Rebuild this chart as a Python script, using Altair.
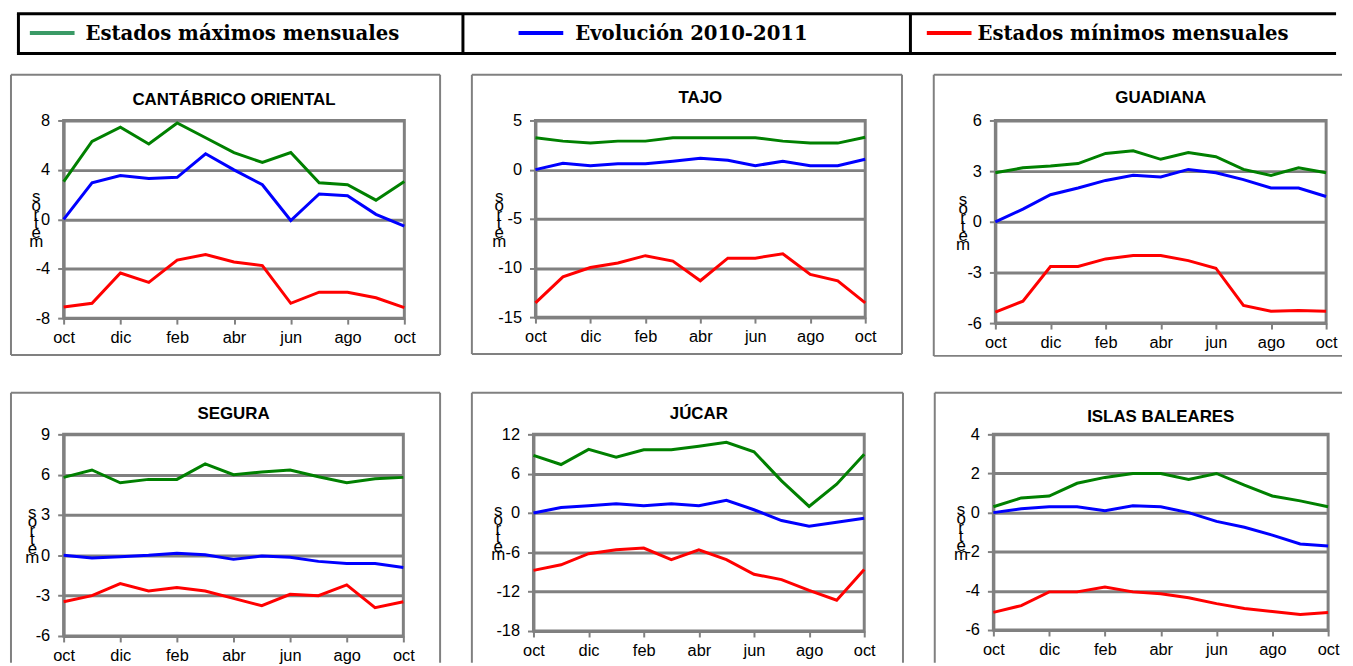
import altair as alt
import pandas as pd

# ---------------- data ----------------
MONTHS = ["oct", "nov", "dic", "ene", "feb", "mar", "abr", "may", "jun", "jul", "ago", "sep", "oct"]
SERIES = ["Estados máximos mensuales", "Evolución 2010-2011", "Estados mínimos mensuales"]
LINE_COLORS = ["#008000", "#0000FF", "#FF0000"]
SAMPLE_COLORS = ["#3A9A66", "#0000FF", "#FF0000"]
TITLES = ["CANTÁBRICO ORIENTAL", "TAJO", "GUADIANA", "SEGURA", "JÚCAR", "ISLAS BALEARES"]
Y_TITLE = list(reversed("metros"))

Y_TICKS = [
    [-8, -4, 0, 4, 8],
    [-15, -10, -5, 0, 5],
    [-6, -3, 0, 3, 6],
    [-6, -3, 0, 3, 6, 9],
    [-18, -12, -6, 0, 6, 12],
    [-6, -4, -2, 0, 2, 4],
]

cant_max = [3.05, 6.3, 7.45, 6.1, 7.8, 6.6, 5.4, 4.6, 5.4, 2.95, 2.8, 1.55, 3.05]
cant_evo = [0.0, 2.95, 3.55, 3.3, 3.4, 5.3, 4.0, 2.8, -0.1, 2.05, 1.9, 0.4, -0.55]
cant_min = [-7.1, -6.8, -4.35, -5.1, -3.3, -2.85, -3.45, -3.75, -6.8, -5.9, -5.9, -6.35, -7.15]

tajo_max = [3.25, 2.9, 2.7, 2.9, 2.9, 3.25, 3.25, 3.25, 3.25, 2.9, 2.7, 2.7, 3.3]
tajo_evo = [0.0, 0.65, 0.4, 0.6, 0.6, 0.85, 1.15, 0.95, 0.4, 0.85, 0.4, 0.4, 1.05]
tajo_min = [-13.55, -10.9, -9.95, -9.5, -8.75, -9.3, -11.3, -9.0, -9.0, -8.55, -10.65, -11.3, -13.55]

guad_max = [2.9, 3.2, 3.3, 3.45, 4.05, 4.2, 3.7, 4.1, 3.85, 3.1, 2.75, 3.2, 2.9]
guad_evo = [0.0, 0.75, 1.6, 2.0, 2.45, 2.75, 2.65, 3.1, 2.9, 2.5, 2.0, 2.0, 1.5]
guad_min = [-5.35, -4.7, -2.65, -2.65, -2.2, -2.0, -2.0, -2.3, -2.75, -4.95, -5.3, -5.25, -5.3]

seg_max = [5.8, 6.35, 5.4, 5.65, 5.65, 6.8, 6.0, 6.2, 6.35, 5.85, 5.4, 5.7, 5.8]
seg_evo = [0.0, -0.2, -0.1, 0.0, 0.15, 0.05, -0.3, -0.05, -0.15, -0.45, -0.6, -0.6, -0.9]
seg_min = [-3.45, -3.0, -2.1, -2.65, -2.4, -2.65, -3.2, -3.75, -2.9, -3.0, -2.2, -3.9, -3.45]

juc_max = [8.8, 7.4, 9.7, 8.5, 9.65, 9.65, 10.2, 10.8, 9.35, 4.9, 1.0, 4.4, 8.95]
juc_evo = [0.0, 0.85, 1.1, 1.4, 1.1, 1.4, 1.1, 1.95, 0.5, -1.15, -2.0, -1.4, -0.8]
juc_min = [-8.75, -7.9, -6.2, -5.6, -5.35, -7.1, -5.6, -7.1, -9.35, -10.15, -11.8, -13.3, -8.6]

bal_max = [0.3, 0.75, 0.85, 1.5, 1.8, 2.0, 2.0, 1.7, 2.0, 1.4, 0.85, 0.6, 0.3]
bal_evo = [0.0, 0.2, 0.3, 0.3, 0.1, 0.35, 0.3, 0.0, -0.45, -0.75, -1.15, -1.6, -1.7]
bal_min = [-5.1, -4.75, -4.05, -4.05, -3.8, -4.05, -4.15, -4.35, -4.65, -4.9, -5.05, -5.2, -5.1]

MAXIMOS = [cant_max, tajo_max, guad_max, seg_max, juc_max, bal_max]
EVOLUCION = [cant_evo, tajo_evo, guad_evo, seg_evo, juc_evo, bal_evo]
MINIMOS = [cant_min, tajo_min, guad_min, seg_min, juc_min, bal_min]

# ---------------- style / geometry ----------------
GRAY = "#808080"
SANS = "Liberation Sans"
PANEL_W = [343, 332, 333, 342, 333, 337]
PANEL_H = [199, 198, 204, 203, 198, 197]
FRAME_L = [-53, -64, -62, -53, -62, -59]
FRAME_T = [-46, -46, -46, -42, -42, -42]
FRAME_R = [36, 37, None, 37, 39, None]      # None: frame continues past the page edge
FRAME_B = [37, 37, 33, None, None, None]
OPEN_R = [0, 0, 16, 0, 0, 14]
OPEN_B = [0, 0, 0, 27, 32, 33]
TITLE_DY = [-16, -18, -18, -15, -15, -12]
YTITLE_X = [-28, -37, -33, -32, -36, -33]
Y_LINE_H = 9

ONE = alt.Data(values=[{}])
month_expr = "[" + ",".join("'%s'" % m for m in MONTHS) + "][datum.value]"


def hrule(x1, x2, y, color=GRAY, width=2):
    return alt.Chart(ONE).mark_rule(color=color, strokeWidth=width).encode(
        x=alt.value(x1), x2=alt.value(x2), y=alt.value(y))


def vrule(x, y1, y2, color=GRAY, width=2):
    return alt.Chart(ONE).mark_rule(color=color, strokeWidth=width).encode(
        x=alt.value(x), y=alt.value(y1), y2=alt.value(y2))


def panel(i):
    w, h = PANEL_W[i], PANEL_H[i]
    ticks = Y_TICKS[i]
    n = len(MONTHS)
    df = pd.DataFrame({
        "m": list(range(n)) * 3,
        "v": MAXIMOS[i] + EVOLUCION[i] + MINIMOS[i],
        "serie": [SERIES[0]] * n + [SERIES[1]] * n + [SERIES[2]] * n,
    })
    lines = alt.Chart(df).mark_line(strokeWidth=3).encode(
        x=alt.X("m:Q",
                scale=alt.Scale(domain=[0, n - 1], nice=False, zero=False),
                axis=alt.Axis(values=list(range(0, n, 2)), labelExpr=month_expr, title=None,
                              grid=False, tickSize=6, labelPadding=6, labelFlush=False,
                              labelOverlap=False)),
        y=alt.Y("v:Q",
                scale=alt.Scale(domain=[min(ticks), max(ticks)], nice=False, zero=False),
                axis=alt.Axis(values=ticks, grid=True, labelExpr="'' + datum.value",
                              tickSize=6, labelPadding=8, labelOverlap=False,
                              title=Y_TITLE, titleAngle=0, titleX=YTITLE_X[i],
                              titleY=h / 2 - (len(Y_TITLE) - 1) * Y_LINE_H / 2,
                              titleAlign="center", titleBaseline="middle",
                              titleLineHeight=Y_LINE_H,
                              titleFontSize=17, titleFontWeight="normal", titleFont=SANS,
                              titleColor="black")),
        color=alt.Color("serie:N", scale=alt.Scale(domain=SERIES, range=LINE_COLORS), legend=None),
    )
    title = alt.Chart(pd.DataFrame({"t": [TITLES[i]]})).mark_text(
        font=SANS, fontSize=17, fontWeight="bold", align="center", baseline="alphabetic",
        color="black").encode(text="t:N", x=alt.value(w / 2), y=alt.value(TITLE_DY[i]))

    left, top = FRAME_L[i], FRAME_T[i]
    right = w + FRAME_R[i] if FRAME_R[i] is not None else w + OPEN_R[i]
    bottom = h + FRAME_B[i] if FRAME_B[i] is not None else h + OPEN_B[i]
    frame = [hrule(left, right, top), vrule(left, top, bottom)]
    if FRAME_R[i] is not None:
        frame.append(vrule(right, top, bottom))
    if FRAME_B[i] is not None:
        frame.append(hrule(left, right, bottom))

    return alt.layer(*frame, lines, title).properties(
        width=w, height=h, view=alt.ViewBackground(stroke=GRAY, strokeWidth=3))


# ---------------- legend bar (coordinates relative to the first plot's origin) ----------------
W_L, H_L = 1270, 43
LEG_LEFT, LEG_RIGHT = -45.5, 1281
LEG_DIVIDERS = [402, 852.5]
LEG_SAMPLE_X = [-34, 458, 869]
LEG_TEXT_X = [22, 515, 920]
leg = [
    hrule(LEG_LEFT - 1.5, LEG_RIGHT, 1.5, "black", 3),
    hrule(LEG_LEFT - 1.5, LEG_RIGHT, 41.5, "black", 3),
    vrule(LEG_LEFT, 1.5, 41.5, "black", 3),
]
for xd in LEG_DIVIDERS:
    leg.append(vrule(xd, 1.5, 41.5, "black", 3))
for k in range(3):
    leg.append(hrule(LEG_SAMPLE_X[k], LEG_SAMPLE_X[k] + 45, 21, SAMPLE_COLORS[k], 4))
    leg.append(alt.Chart(pd.DataFrame({"t": [SERIES[k]]})).mark_text(
        font="DejaVu Serif", fontSize=19.8, fontWeight="bold", align="left", baseline="alphabetic",
        color="black").encode(text="t:N", x=alt.value(LEG_TEXT_X[k]), y=alt.value(28)))
legend = alt.layer(*leg).properties(width=W_L, height=H_L)

row1 = alt.hconcat(panel(0), panel(1), panel(2), spacing=26)
row2 = alt.hconcat(panel(3), panel(4), panel(5), spacing=26)

chart = alt.vconcat(legend, alt.vconcat(row1, row2, spacing=31), spacing=17).properties(
    padding={"left": 0, "top": 2, "right": 0, "bottom": 0}, background="white"
).configure_view(strokeWidth=0).configure_axis(
    labelFont=SANS, labelFontSize=16.5, labelColor="black",
    domainColor=GRAY, domainWidth=3, tickColor=GRAY, tickWidth=2,
    gridColor=GRAY, gridWidth=3,
)

chart.save("out.html", embed_options={"renderer": "svg", "actions": False})
